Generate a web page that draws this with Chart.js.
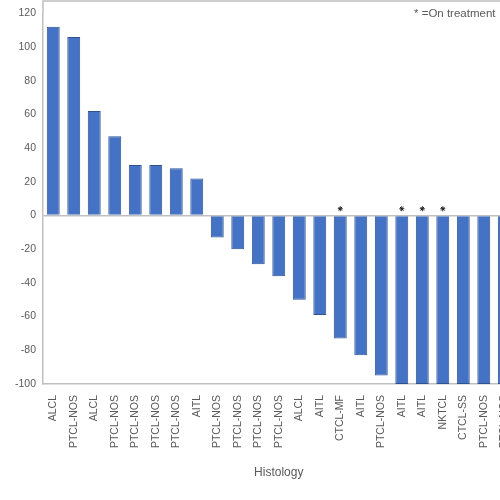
<!DOCTYPE html>
<html>
<head>
<meta charset="utf-8">
<style>
  html, body { margin: 0; padding: 0; background: #fff; overflow: hidden; }
  #chart-box { width: 520px; height: 500px; }
</style>
<script src="https://cdn.jsdelivr.net/npm/chart.js@4.4.1/dist/chart.umd.min.js"></script>
</head>
<body>
<div id="chart-box"><canvas id="histology-chart" width="520" height="500"></canvas></div>
<script>
// Chart data (the last bar is cut off at the right edge of the picture)
const histologies = [
  'ALCL', 'PTCL-NOS', 'ALCL', 'PTCL-NOS', 'PTCL-NOS', 'PTCL-NOS', 'PTCL-NOS', 'AITL',
  'PTCL-NOS', 'PTCL-NOS', 'PTCL-NOS', 'PTCL-NOS', 'ALCL', 'AITL', 'CTCL-MF', 'AITL',
  'PTCL-NOS', 'AITL', 'AITL', 'NKTCL', 'CTCL-SS', 'PTCL-NOS', 'PTCL-NOS'
];
const percentChange = [
  112, 106, 62, 47, 30, 30, 28, 22,
  -13, -20, -29, -36, -50, -59, -73, -83,
  -95, -100, -100, -100, -100, -100, -100
];
// marker height for the "on treatment" asterisks (null = no marker)
const onTreatment = [
  null, null, null, null, null, null, null, null,
  null, null, null, null, null, null, 4, null,
  null, 4, 4, 4, null, null, null
];
const yTicks = [120, 100, 80, 60, 40, 20, 0, -20, -40, -60, -80, -100];
const legendText = '* =On treatment';

const tickColor = '#595959';
const axisColor = '#bfbfbf';
const fontFamily = '"Liberation Sans", Arial, sans-serif';

// draws the top frame line and the small legend note
const framePlugin = {
  id: 'frame',
  afterDraw(chart) {
    const { ctx, chartArea } = chart;
    ctx.save();
    ctx.strokeStyle = axisColor;
    ctx.lineWidth = 1.5;
    ctx.beginPath();
    ctx.moveTo(chartArea.left, chartArea.top);
    ctx.lineTo(chartArea.left, 1);
    ctx.lineTo(chart.width, 1);
    ctx.stroke();
    ctx.fillStyle = tickColor;
    ctx.font = '11.5px ' + fontFamily;
    ctx.textBaseline = 'middle';
    ctx.fillText(legendText, 414, 14);
    ctx.restore();
  }
};

const ctx = document.querySelector('#histology-chart');

new Chart(ctx, {
  data: {
    labels: histologies,
    datasets: [
      {
        type: 'line',
        label: 'On treatment',
        data: onTreatment,
        showLine: false,
        pointStyle: 'star',
        pointRadius: 2.5,
        borderColor: '#222',
        backgroundColor: '#222',
        borderWidth: 1
      },
      {
        type: 'bar',
        label: 'Change',
        data: percentChange,
        backgroundColor: '#4472c4',
        borderColor: '#2f528f',
        borderWidth: 1,
        barPercentage: 0.63,
        categoryPercentage: 1
      }
    ]
  },
  plugins: [framePlugin],
  options: {
    responsive: false,
    animation: false,
    layout: { padding: { top: 6, right: 5, left: 0, bottom: 0 } },
    plugins: {
      legend: { display: false },
      tooltip: { enabled: false }
    },
    scales: {
      x: {
        grid: { display: false },
        border: { color: axisColor, width: 1.5 },
        ticks: {
          color: tickColor,
          font: { family: fontFamily, size: 10.5 },
          minRotation: 90,
          maxRotation: 90,
          autoSkip: false,
          padding: 3
        },
        title: {
          display: true,
          text: 'Histology',
          color: tickColor,
          font: { family: fontFamily, size: 12 },
          padding: { top: 0, bottom: 20 }
        },
        afterFit(scale) { scale.height = 116; }
      },
      y: {
        min: -100,
        max: 120,
        afterBuildTicks(scale) {
          scale.ticks = yTicks.map((v) => ({ value: v }));
        },
        grid: {
          drawTicks: false,
          color: (c) => (c.tick && c.tick.value === 0 ? axisColor : 'rgba(0,0,0,0)'),
          lineWidth: 1.5
        },
        border: { color: axisColor, width: 1.5 },
        ticks: {
          color: tickColor,
          font: { family: fontFamily, size: 10.5 },
          padding: 7
        },
        afterFit(scale) { scale.width = 43; }
      }
    }
  }
});
</script>
</body>
</html>
